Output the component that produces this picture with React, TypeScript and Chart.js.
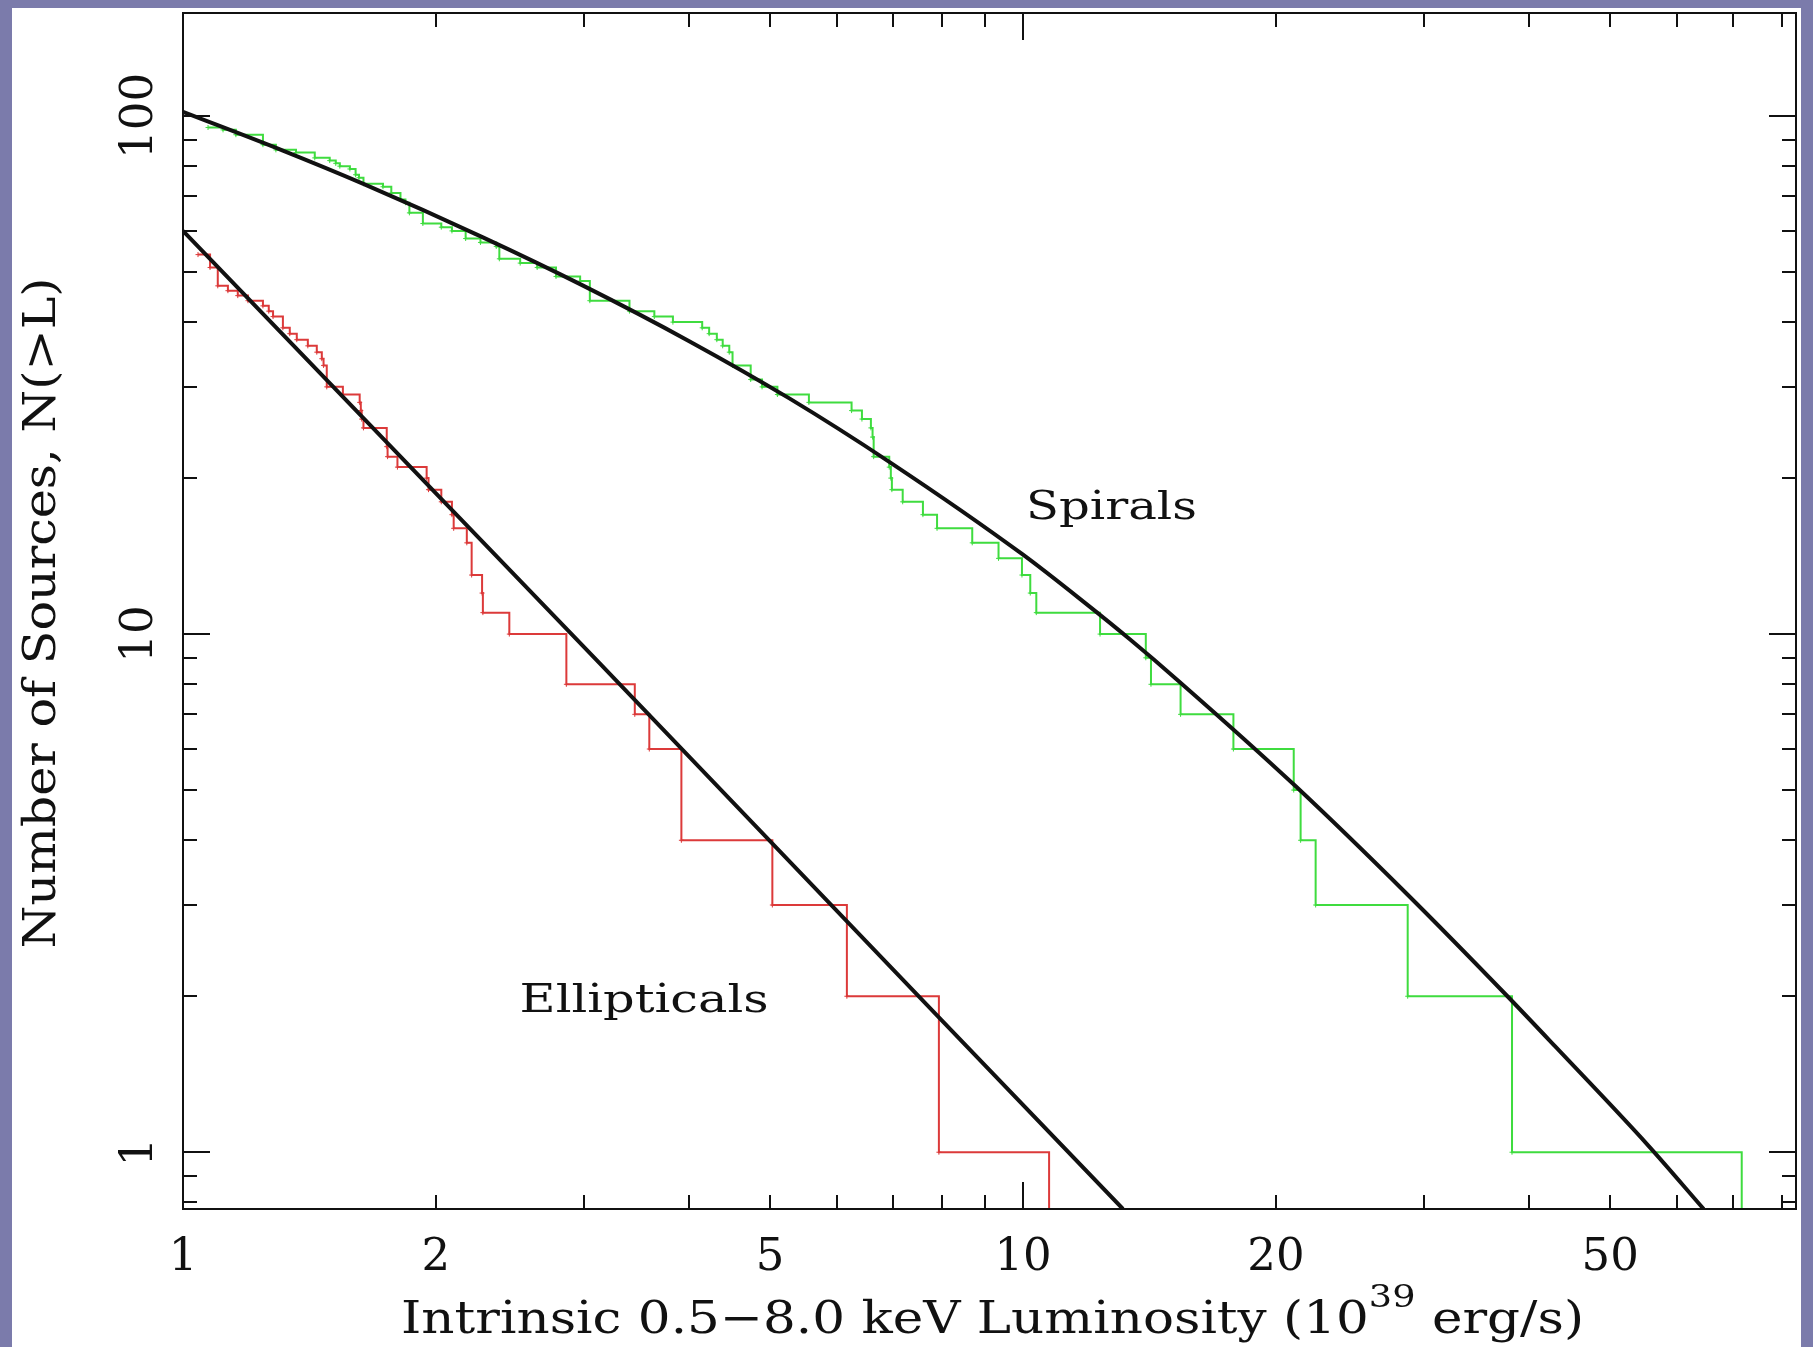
import React, { useEffect, useRef } from "react";
import { Chart, registerables } from "chart.js";

Chart.register(...registerables);

// ---- Data ----
// Spirals: cumulative number of sources N(>L); each entry starts a level that holds until the next L
const spiralL = [1.071, 1.116, 1.156, 1.245, 1.29, 1.363, 1.435, 1.495, 1.52, 1.537, 1.58, 1.605, 1.62, 1.64, 1.73, 1.77, 1.815, 1.84, 1.86, 1.93, 2.03, 2.09, 2.17, 2.26, 2.36, 2.38, 2.52, 2.64, 2.78, 2.97, 3.05, 3.4, 3.64, 3.83, 4.15, 4.23, 4.32, 4.39, 4.47, 4.51, 4.74, 4.89, 5.1, 5.56, 6.25, 6.43, 6.59, 6.62, 6.64, 6.93, 6.96, 6.98, 7.19, 7.6, 7.9, 8.7, 9.35, 9.97, 10.2, 10.37, 12.35, 14.0, 14.2, 15.4, 17.8, 21.0, 21.4, 22.3, 28.7, 38.2, 71.7];
const spiralN = [95, 94, 92, 88, 86, 85, 83, 82, 81, 80, 79, 77, 76, 74, 73, 71, 69, 68, 65, 62, 61, 60, 58, 57, 56, 53, 52, 51, 49, 48, 44, 42, 41, 40, 39, 38, 37, 36, 35, 33, 31, 30, 29, 28, 27, 26, 25, 24, 22, 21, 20, 19, 18, 17, 16, 15, 14, 13, 12, 11, 10, 9, 8, 7, 6, 5, 4, 3, 2, 1, 0.5];

// Ellipticals
const ellipL = [1.042, 1.077, 1.1, 1.131, 1.162, 1.195, 1.245, 1.265, 1.28, 1.315, 1.34, 1.366, 1.408, 1.443, 1.463, 1.47, 1.483, 1.55, 1.623, 1.628, 1.632, 1.64, 1.748, 1.752, 1.8, 1.95, 1.96, 2.03, 2.09, 2.1, 2.177, 2.206, 2.27, 2.275, 2.446, 2.86, 3.45, 3.59, 3.92, 5.03, 6.17, 7.94, 10.74];
const ellipN = [54, 51, 47, 46, 45, 44, 43, 42, 41, 39, 38, 37, 36, 35, 34, 33, 30, 29, 28, 27, 26, 25, 23, 22, 21, 20, 19, 18, 17, 16, 15, 13, 12, 11, 10, 8, 7, 6, 4, 3, 2, 1, 0.5];

// Model fits (black curves)
const spiralFitL = [1.0, 1.315, 1.637, 2.275, 2.99, 4.0, 5.27, 6.93, 9.98, 11.87, 13.4, 15.3, 21.1, 28.7, 37.5, 43.0, 55.5, 64.6];
const spiralFitN = [101.8, 85.7, 74.0, 58.3, 47.1, 36.8, 28.5, 21.5, 14.26, 11.46, 9.77, 8.13, 5.09, 3.14, 2.02, 1.6, 1.03, 0.777];
const ellipFitL = [1.0, 3.13, 7.94, 13.15];
const ellipFitN = [60.0, 8.8, 1.82, 0.777];

// Axes
const X_MIN = 1;
const X_MAX = 83.2;
const Y_MIN = 0.777;
const Y_MAX = 158;
const xTickLabels = [1, 2, 5, 10, 20, 50];
const yTickLabels = [1, 10, 100];
const xMajorTicks = [1, 10];
const xMinorTicks = [2, 3, 4, 5, 6, 7, 8, 9, 20, 30, 40, 50, 60, 70, 80];
const yMajorTicks = [1, 10, 100];
const yMinorTicks = [0.8, 0.9, 2, 3, 4, 5, 6, 7, 8, 9, 20, 30, 40, 50, 60, 70, 80, 90];

// Texts
const xTitleParts = ["Intrinsic 0.5\u22128.0 keV Luminosity (10", "39", " erg/s)"];
const yTitle = "Number of Sources, N(>L)";
const spiralLabel = { text: "Spirals", L: 10.08, N: 16.7 };
const ellipLabel = { text: "Ellipticals", L: 2.516, N: 1.862 };

const FONT = '"DejaVu Serif", "Liberation Serif", serif';
const GREEN = "#3fdc3f";
const RED = "#dc3a3a";
const INK = "#111111";

type Run = { text: string; size: number; dy: number };

function drawRuns(ctx: CanvasRenderingContext2D, runs: Run[], x: number, y: number, targetWidth: number | null, align: "left" | "center") {
  let total = 0;
  const widths = runs.map((r) => {
    ctx.font = `${r.size}px ${FONT}`;
    const w = ctx.measureText(r.text).width;
    total += w;
    return w;
  });
  const sx = targetWidth ? targetWidth / total : 1;
  ctx.save();
  ctx.translate(x, y);
  ctx.scale(sx, 1);
  let cx = align === "center" ? -total / 2 : 0;
  ctx.textAlign = "left";
  ctx.textBaseline = "alphabetic";
  runs.forEach((r, i) => {
    ctx.font = `${r.size}px ${FONT}`;
    ctx.fillText(r.text, cx, r.dy);
    cx += widths[i];
  });
  ctx.restore();
}

const framePlugin = {
  id: "pgplotFrame",
  afterDraw(chart: any) {
    const { ctx, chartArea } = chart;
    const xs = chart.scales.x;
    const ys = chart.scales.y;
    const { left, right, top, bottom } = chartArea;
    ctx.save();
    ctx.strokeStyle = INK;
    ctx.fillStyle = INK;
    ctx.lineWidth = 2;
    ctx.lineCap = "butt";
    ctx.strokeRect(left, top, right - left, bottom - top);

    const MAJ = 27;
    const MIN = 14;
    ctx.beginPath();
    const xt = (v: number, len: number) => {
      const p = Math.round(xs.getPixelForValue(v));
      ctx.moveTo(p, bottom);
      ctx.lineTo(p, bottom - len);
      ctx.moveTo(p, top);
      ctx.lineTo(p, top + len);
    };
    const yt = (v: number, len: number) => {
      const p = Math.round(ys.getPixelForValue(v));
      ctx.moveTo(left, p);
      ctx.lineTo(left + len, p);
      ctx.moveTo(right, p);
      ctx.lineTo(right - len, p);
    };
    xMajorTicks.forEach((v) => xt(v, MAJ));
    xMinorTicks.forEach((v) => xt(v, MIN));
    yMajorTicks.forEach((v) => yt(v, MAJ));
    yMinorTicks.forEach((v) => yt(v, MIN));
    ctx.stroke();

    // tick labels
    ctx.textAlign = "center";
    ctx.textBaseline = "alphabetic";
    ctx.font = `45px ${FONT}`;
    xTickLabels.forEach((v) => {
      ctx.fillText(String(v), xs.getPixelForValue(v), bottom + 61);
    });
    yTickLabels.forEach((v) => {
      ctx.save();
      ctx.translate(left - 31, ys.getPixelForValue(v));
      ctx.rotate(-Math.PI / 2);
      ctx.font = `45px ${FONT}`;
      ctx.textAlign = "center";
      ctx.fillText(String(v), 0, 0);
      ctx.restore();
    });

    // x title with superscript
    drawRuns(
      ctx,
      [
        { text: xTitleParts[0], size: 45, dy: 0 },
        { text: xTitleParts[1], size: 32, dy: -26 },
        { text: xTitleParts[2], size: 45, dy: 0 },
      ],
      (left + right) / 2 + 3,
      bottom + 124,
      1183,
      "center"
    );

    // y title
    ctx.save();
    ctx.translate(left - 128, (top + bottom) / 2 + 2);
    ctx.rotate(-Math.PI / 2);
    drawRuns(ctx, [{ text: yTitle, size: 44, dy: 0 }], 0, 0, 671, "center");
    ctx.restore();

    // curve labels anchored in data space
    drawRuns(ctx, [{ text: spiralLabel.text, size: 40, dy: 0 }], xs.getPixelForValue(spiralLabel.L), ys.getPixelForValue(spiralLabel.N), 171, "left");
    drawRuns(ctx, [{ text: ellipLabel.text, size: 40, dy: 0 }], xs.getPixelForValue(ellipLabel.L), ys.getPixelForValue(ellipLabel.N), 249, "left");

    ctx.restore();
  },
};

function pts(xs: number[], ys: number[]) {
  return xs.map((x, i) => ({ x, y: ys[i] }));
}

export default function App() {
  const ref = useRef<HTMLCanvasElement | null>(null);
  useEffect(() => {
    const canvas = ref.current;
    if (!canvas) return;
    const chart = new Chart(canvas, {
      type: "line",
      data: {
        datasets: [
          {
            label: "Spirals fit",
            data: pts(spiralFitL, spiralFitN),
            borderColor: INK,
            borderWidth: 4,
            pointRadius: 0,
            cubicInterpolationMode: "monotone",
            order: 0,
            clip: 0,
          },
          {
            label: "Ellipticals fit",
            data: pts(ellipFitL, ellipFitN),
            borderColor: INK,
            borderWidth: 4,
            pointRadius: 0,
            order: 0,
            clip: 0,
          },
          {
            label: "Spirals",
            data: pts(spiralL, spiralN),
            borderColor: GREEN,
            borderWidth: 2,
            stepped: "before",
            pointStyle: "cross",
            pointRadius: 2.5,
            pointBorderWidth: 1,
            pointBorderColor: GREEN,
            order: 1,
            clip: 0,
          },
          {
            label: "Ellipticals",
            data: pts(ellipL, ellipN),
            borderColor: RED,
            borderWidth: 2,
            stepped: "before",
            pointStyle: "cross",
            pointRadius: 2.5,
            pointBorderWidth: 1,
            pointBorderColor: RED,
            order: 1,
            clip: 0,
          },
        ],
      } as any,
      options: {
        responsive: false,
        animation: false,
        devicePixelRatio: 1,
        events: [],
        layout: { padding: { left: 171, top: 3, right: 3, bottom: 138 } },
        plugins: { legend: { display: false }, tooltip: { enabled: false }, title: { display: false } },
        scales: {
          x: { type: "logarithmic", min: X_MIN, max: X_MAX, display: false },
          y: { type: "logarithmic", min: Y_MIN, max: Y_MAX, display: false },
        },
      } as any,
      plugins: [framePlugin],
    });
    return () => chart.destroy();
  }, []);
  return (
    <div style={{ position: "fixed", left: 0, top: 0, right: 0, bottom: 0, background: "#7b7bab" }}>
      <canvas
        ref={ref}
        width={1789}
        height={1339}
        style={{ position: "absolute", left: 12, top: 8, width: 1789, height: 1339, background: "#ffffff", display: "block" }}
      />
    </div>
  );
}
